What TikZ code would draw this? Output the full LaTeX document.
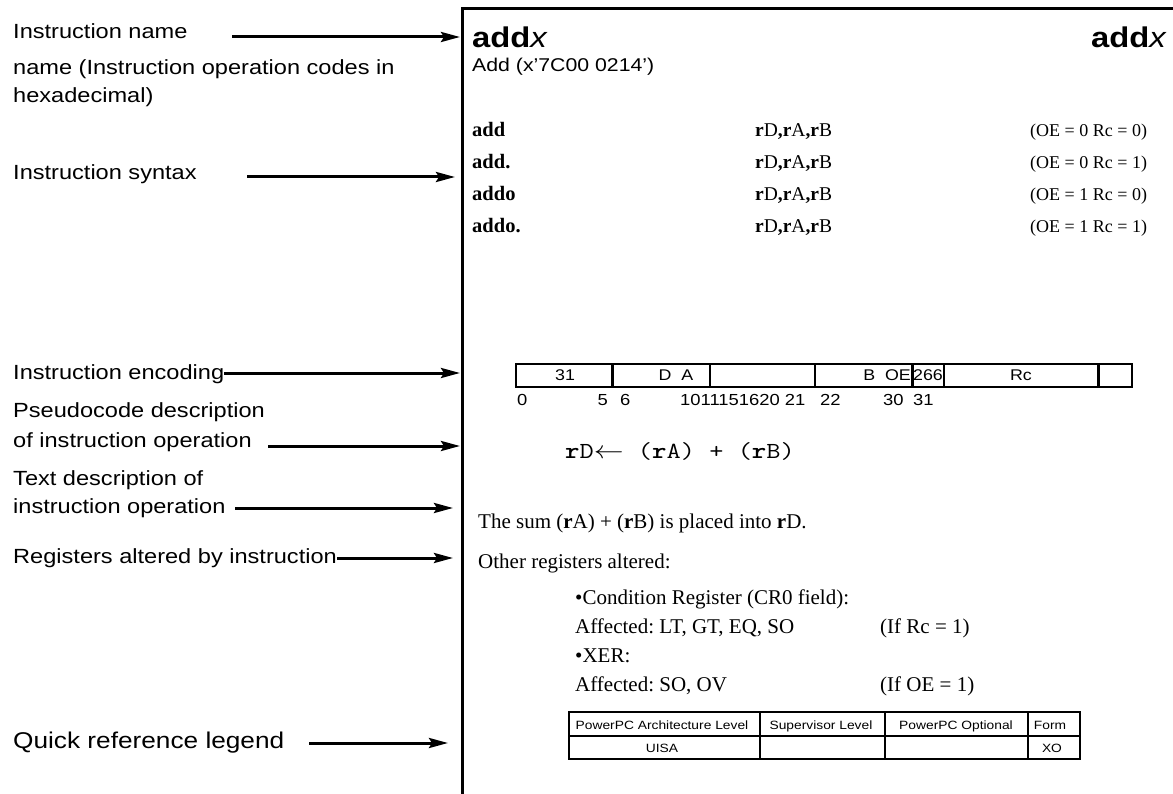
\documentclass[tikz,border=0pt]{standalone}
\usepackage{fontspec}
\usepackage{graphicx}
\setmainfont{Liberation Serif}
\setsansfont{Liberation Sans}[FakeStretch=1.15]
\newfontfamily\labfont{Liberation Sans}[FakeStretch=1.15]
\usetikzlibrary{arrows.meta}
\frenchspacing
\tikzset{
  lab/.style={font=\labfont\fontsize{20.5}{24}\selectfont, inner sep=0pt, anchor=base west},
  arr/.style={line width=3pt, -{Stealth[length=19pt,width=10pt,inset=3pt]}},
  frame/.style={line width=3pt},
  cell/.style={line width=2.7pt},
  ssf/.style={font=\sffamily\fontsize{#1}{#1}\selectfont, inner sep=0pt},
  rmf/.style={font=\rmfamily\fontsize{#1}{#1}\selectfont, inner sep=0pt, anchor=base west},
  tbl/.style={line width=1.8pt}
}
\begin{document}
\begin{tikzpicture}[x=1pt,y=-1pt]
\useasboundingbox (0,0) rectangle (1173,794);
% frame
\draw[frame] (462.5,794) -- (462.5,8.5) -- (1173,8.5);

% left labels
\node[lab] (l1) at (13,39) {Instruction name};
\node[lab] (l2a) at (13,75) {name (Instruction operation codes in};
\node[lab] (l2b) at (13,103) {hexadecimal)};
\node[lab] (l3) at (13,180) {Instruction syntax};
\node[lab] (l4) at (13,379) {Instruction encoding};
\node[lab] (l5a) at (13,417) {Pseudocode description};
\node[lab] (l5b) at (13,447) {of instruction operation};
\node[lab] (l6a) at (13,485) {Text description of};
\node[lab] (l6b) at (13,513) {instruction operation};
\node[lab] (l7) at (13,563) {Registers altered by instruction};
\node[lab, font=\labfont\fontsize{22.8}{26}\selectfont] (l8) at (13,748) {Quick reference legend};

% arrow end points
\coordinate (s1) at (232,37);  \coordinate (e1) at (460,37);
\coordinate (s3) at (247,177); \coordinate (e3) at (455,177);
\coordinate (s4) at (l4.base east); \coordinate (e4) at (460,373);
\coordinate (s5) at (268,446); \coordinate (e5) at (460,446);
\coordinate (s6) at (235,508); \coordinate (e6) at (453,508);
\coordinate (s7) at (l7.base east); \coordinate (e7) at (453,558);
\coordinate (s8) at (309,743); \coordinate (e8) at (448,743);
\draw[arr] (s1) -- (e1);
\draw[arr] (s3) -- (e3);
\draw[arr] (s4 |- e4) -- (e4);
\draw[arr] (s5) -- (e5);
\draw[arr] (s6) -- (e6);
\draw[arr] (s7 |- e7) -- (e7);
\draw[arr] (s8) -- (e8);

% header
\node[ssf=28.5, anchor=base west] (t1) at (472,48) {\textbf{add}\textit{x}};
\node[ssf=28.5, anchor=base east] (t2) at (1167,48) {\textbf{add}\textit{x}};
\node[ssf=18.5, anchor=base west] (t3) at (472,72) {Add (x’7C00 0214’)};

% syntax rows
\node[rmf=20.5] (r1a) at (472,137) {\textbf{add}};
\node[rmf=19.5] (r1b) at (755,137) {\textbf{r}D\textbf{,r}A\textbf{,r}B};
\node[rmf=18] (r1c) at (1030,137) {(OE = 0 Rc = 0)};
\node[rmf=20.5] (r2a) at (472,169) {\textbf{add.}};
\node[rmf=19.5] (r2b) at (755,169) {\textbf{r}D\textbf{,r}A\textbf{,r}B};
\node[rmf=18] (r2c) at (1030,169) {(OE = 0 Rc = 1)};
\node[rmf=20.5] (r3a) at (472,201) {\textbf{addo}};
\node[rmf=19.5] (r3b) at (755,201) {\textbf{r}D\textbf{,r}A\textbf{,r}B};
\node[rmf=18] (r3c) at (1030,201) {(OE = 1 Rc = 0)};
\node[rmf=20.5] (r4a) at (472,233) {\textbf{addo.}};
\node[rmf=19.5] (r4b) at (755,233) {\textbf{r}D\textbf{,r}A\textbf{,r}B};
\node[rmf=18] (r4c) at (1030,233) {(OE = 1 Rc = 1)};

% encoding
\draw[cell] (516,364) rectangle (1132,387);
\foreach \xx in {612.5,710,815,912.5,944,1098.5}
  \draw[cell] (\xx,364) -- (\xx,387);
\node[ssf=15.5, anchor=base] (f1) at (565,381) {31};
\node[ssf=15.5, anchor=base] (f2) at (676,381) {D\ \ A};
\node[ssf=15.5, anchor=base east] (f3) at (911,381) {B\ \ OE};
\node[ssf=15.5, anchor=base] (f4) at (928,381) {266};
\node[ssf=15.5, anchor=base] (f5) at (1021,381) {Rc};
\node[ssf=16, anchor=base west] (b0) at (517,405) {0};
\node[ssf=16, anchor=base east] (b5) at (608,405) {5};
\node[ssf=16, anchor=base west] (b6) at (620,405) {6};
\node[ssf=16, anchor=base west] (b10) at (680,405) {1011151620 21};
\node[ssf=16, anchor=base west] (b22) at (820,405) {22};
\node[ssf=16, anchor=base west] (b30) at (883,405) {30};
\node[ssf=16, anchor=base west] (b31) at (913,405) {31};

% pseudocode
\node[inner sep=0pt, anchor=base west] (pc) at (565,458)
  {\scalebox{1.2}[1]{\ttfamily\fontsize{23}{27}\selectfont \textbf{r}D$\leftarrow$\ (\textbf{r}A)\ +\ (\textbf{r}B)}};

% description
\node[rmf=21] (d1) at (478,528) {The sum (\textbf{r}A) + (\textbf{r}B) is placed into \textbf{r}D.};
\node[rmf=21] (d2) at (478,568) {Other registers altered:};
\node[rmf=21] (d3) at (575,604) {•Condition Register (CR0 field):};
\node[rmf=21] (d4) at (575,633) {Affected: LT, GT, EQ, SO};
\node[rmf=21] (d4b) at (880,633) {(If Rc = 1)};
\node[rmf=21] (d5) at (575,662) {•XER:};
\node[rmf=21] (d6) at (575,691) {Affected: SO, OV};
\node[rmf=21] (d6b) at (880,691) {(If OE = 1)};

% legend table
\draw[tbl] (569,712) rectangle (1080,759);
\draw[tbl] (569,736) -- (1080,736);
\foreach \xx in {760,885,1028}
  \draw[tbl] (\xx,712) -- (\xx,759);
\node[ssf=12, anchor=base] (h1) at (662,729) {PowerPC Architecture Level};
\node[ssf=12, anchor=base] (h2) at (821,729) {Supervisor Level};
\node[ssf=12, anchor=base] (h3) at (956,729) {PowerPC Optional};
\node[ssf=12, anchor=base] (h4) at (1050,729) {Form};
\node[ssf=12, anchor=base] (v1) at (662,752) {UISA};
\node[ssf=12, anchor=base] (v4) at (1052,752) {XO};
\end{tikzpicture}
\end{document}
